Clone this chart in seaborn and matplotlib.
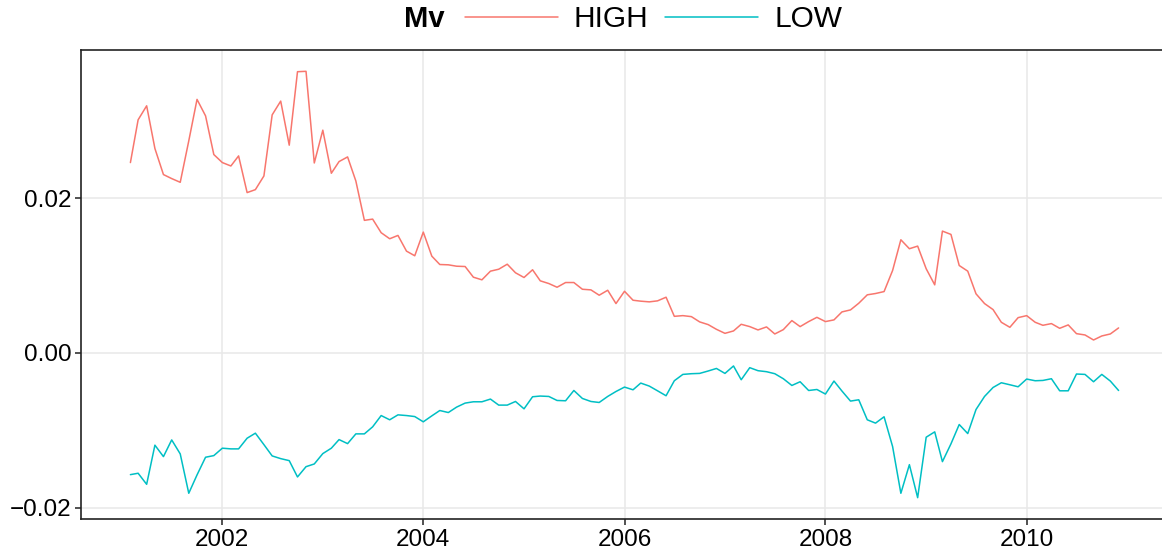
import numpy as np
import pandas as pd
import seaborn as sns
import matplotlib.dates as mdates
from matplotlib import pyplot as plt

# monthly series, Feb 2001 .. Dec 2010
dates = pd.date_range("2001-02-01", periods=119, freq="MS")

high = [
    0.02462, 0.03015, 0.03196, 0.02644, 0.02307, 0.02255, 0.02207, 0.02742, 0.03279, 0.03066,
    0.02566, 0.02462, 0.02418, 0.02548, 0.02074, 0.02112, 0.02289, 0.03079, 0.03257, 0.02687,
    0.03637, 0.03642, 0.02457, 0.02881, 0.02324, 0.02475, 0.02535, 0.02224, 0.01715, 0.01731,
    0.01555, 0.01477, 0.01520, 0.01317, 0.01257, 0.01563, 0.01252, 0.01144, 0.01140, 0.01122,
    0.01118, 0.00980, 0.00946, 0.01058, 0.01083, 0.01148, 0.01037, 0.00976, 0.01076, 0.00933,
    0.00898, 0.00850, 0.00911, 0.00911, 0.00824, 0.00816, 0.00747, 0.00811, 0.00639, 0.00798,
    0.00682, 0.00670, 0.00661, 0.00674, 0.00721, 0.00474, 0.00483, 0.00470, 0.00402, 0.00367,
    0.00306, 0.00254, 0.00285, 0.00371, 0.00341, 0.00298, 0.00337, 0.00246, 0.00302, 0.00419,
    0.00341, 0.00406, 0.00461, 0.00406, 0.00428, 0.00531, 0.00557, 0.00643, 0.00752, 0.00769,
    0.00794, 0.01067, 0.01464, 0.01348, 0.01382, 0.01089, 0.00881, 0.01576, 0.01533, 0.01131,
    0.01058, 0.00765, 0.00639, 0.00561, 0.00397, 0.00332, 0.00457, 0.00483, 0.00397, 0.00358,
    0.00380, 0.00319, 0.00363, 0.00250, 0.00233, 0.00168, 0.00220, 0.00246, 0.00324,
]

low = [
    -0.01573, -0.01555, -0.01698, -0.01192, -0.01340, -0.01124, -0.01305, -0.01814, -0.01577, -0.01348,
    -0.01327, -0.01231, -0.01240, -0.01240, -0.01102, -0.01037, -0.01185, -0.01331, -0.01366, -0.01392,
    -0.01603, -0.01470, -0.01435, -0.01301, -0.01231, -0.01120, -0.01172, -0.01046, -0.01046, -0.00955,
    -0.00809, -0.00864, -0.00800, -0.00809, -0.00822, -0.00890, -0.00813, -0.00744, -0.00770, -0.00700,
    -0.00648, -0.00631, -0.00631, -0.00596, -0.00674, -0.00674, -0.00627, -0.00722, -0.00566, -0.00557,
    -0.00562, -0.00614, -0.00618, -0.00485, -0.00588, -0.00627, -0.00640, -0.00562, -0.00498, -0.00441,
    -0.00476, -0.00389, -0.00428, -0.00489, -0.00553, -0.00359, -0.00277, -0.00268, -0.00264, -0.00233,
    -0.00200, -0.00264, -0.00168, -0.00346, -0.00190, -0.00229, -0.00242, -0.00268, -0.00333, -0.00420,
    -0.00372, -0.00485, -0.00472, -0.00531, -0.00363, -0.00492, -0.00622, -0.00605, -0.00864, -0.00907,
    -0.00825, -0.01210, -0.01814, -0.01444, -0.01871, -0.01089, -0.01020, -0.01405, -0.01175, -0.00925,
    -0.01042, -0.00731, -0.00562, -0.00446, -0.00385, -0.00411, -0.00437, -0.00337, -0.00359, -0.00355,
    -0.00333, -0.00489, -0.00489, -0.00272, -0.00277, -0.00372, -0.00277, -0.00363, -0.00485,
]

groups = ["HIGH", "LOW"]
colors = ["#F8766D", "#00BFC4"]


def main() -> None:
    df = pd.DataFrame({
        "date": list(dates) * 2,
        "value": high + low,
        "Mv": [groups[0]] * len(high) + [groups[1]] * len(low),
    })

    sns.set_theme(style="whitegrid")
    plt.rcParams["font.family"] = ["Liberation Sans", "DejaVu Sans"]
    plt.rcParams["text.color"] = "black"

    fig = plt.figure(figsize=(11.62, 5.56), dpi=100)
    ax = fig.add_axes([81 / 1162, 1 - 519 / 556, (1168 - 81) / 1162, (519 - 50) / 556])

    sns.lineplot(data=df, x="date", y="value", hue="Mv", hue_order=groups,
                 palette=colors, linewidth=1.1, ax=ax)

    # ggplot-like 5% expansion
    span = dates[-1] - dates[0]
    ax.set_xlim(dates[0] - span * 0.05, dates[-1] + span * 0.05)
    vals = np.array(high + low)
    pad = (vals.max() - vals.min()) * 0.05
    ax.set_ylim(vals.min() - pad, vals.max() + pad)

    ax.xaxis.set_major_locator(mdates.YearLocator(2))
    ax.xaxis.set_major_formatter(mdates.DateFormatter("%Y"))
    ax.set_yticks([-0.02, 0.0, 0.02])
    ax.set_yticklabels(["\u22120.02", "0.00", "0.02"])
    ax.set_xlabel("")
    ax.set_ylabel("")

    ax.grid(True, color="#E8E8E8", linewidth=1.1)
    ax.set_facecolor("white")
    for side in ("left", "bottom", "top", "right"):
        ax.spines[side].set_visible(True)
        ax.spines[side].set_color("#222222")
        ax.spines[side].set_linewidth(1.2)
    ax.tick_params(axis="both", which="both", length=4, width=1.1, color="#222222",
                   labelsize=17.5, labelcolor="black", pad=3, direction="out",
                   bottom=True, left=True)

    leg = ax.get_legend()
    handles = leg.legend_handles
    labels = [t.get_text() for t in leg.get_texts()]
    leg.remove()

    y_leg = 1 - 19 / 556
    fig.text(404 / 1162, y_leg, "Mv", fontsize=21, fontweight="bold",
             color="black", ha="left", va="center")
    fig.legend(handles, labels, loc="center left", ncol=2,
               bbox_to_anchor=(465 / 1162, y_leg), frameon=False,
               fontsize=21.5, handlelength=3.1, handletextpad=0.55,
               columnspacing=0.55, borderpad=0, borderaxespad=0,
               labelcolor="black")

    plt.savefig("out.png", dpi=100)


if __name__ == "__main__":
    main()
